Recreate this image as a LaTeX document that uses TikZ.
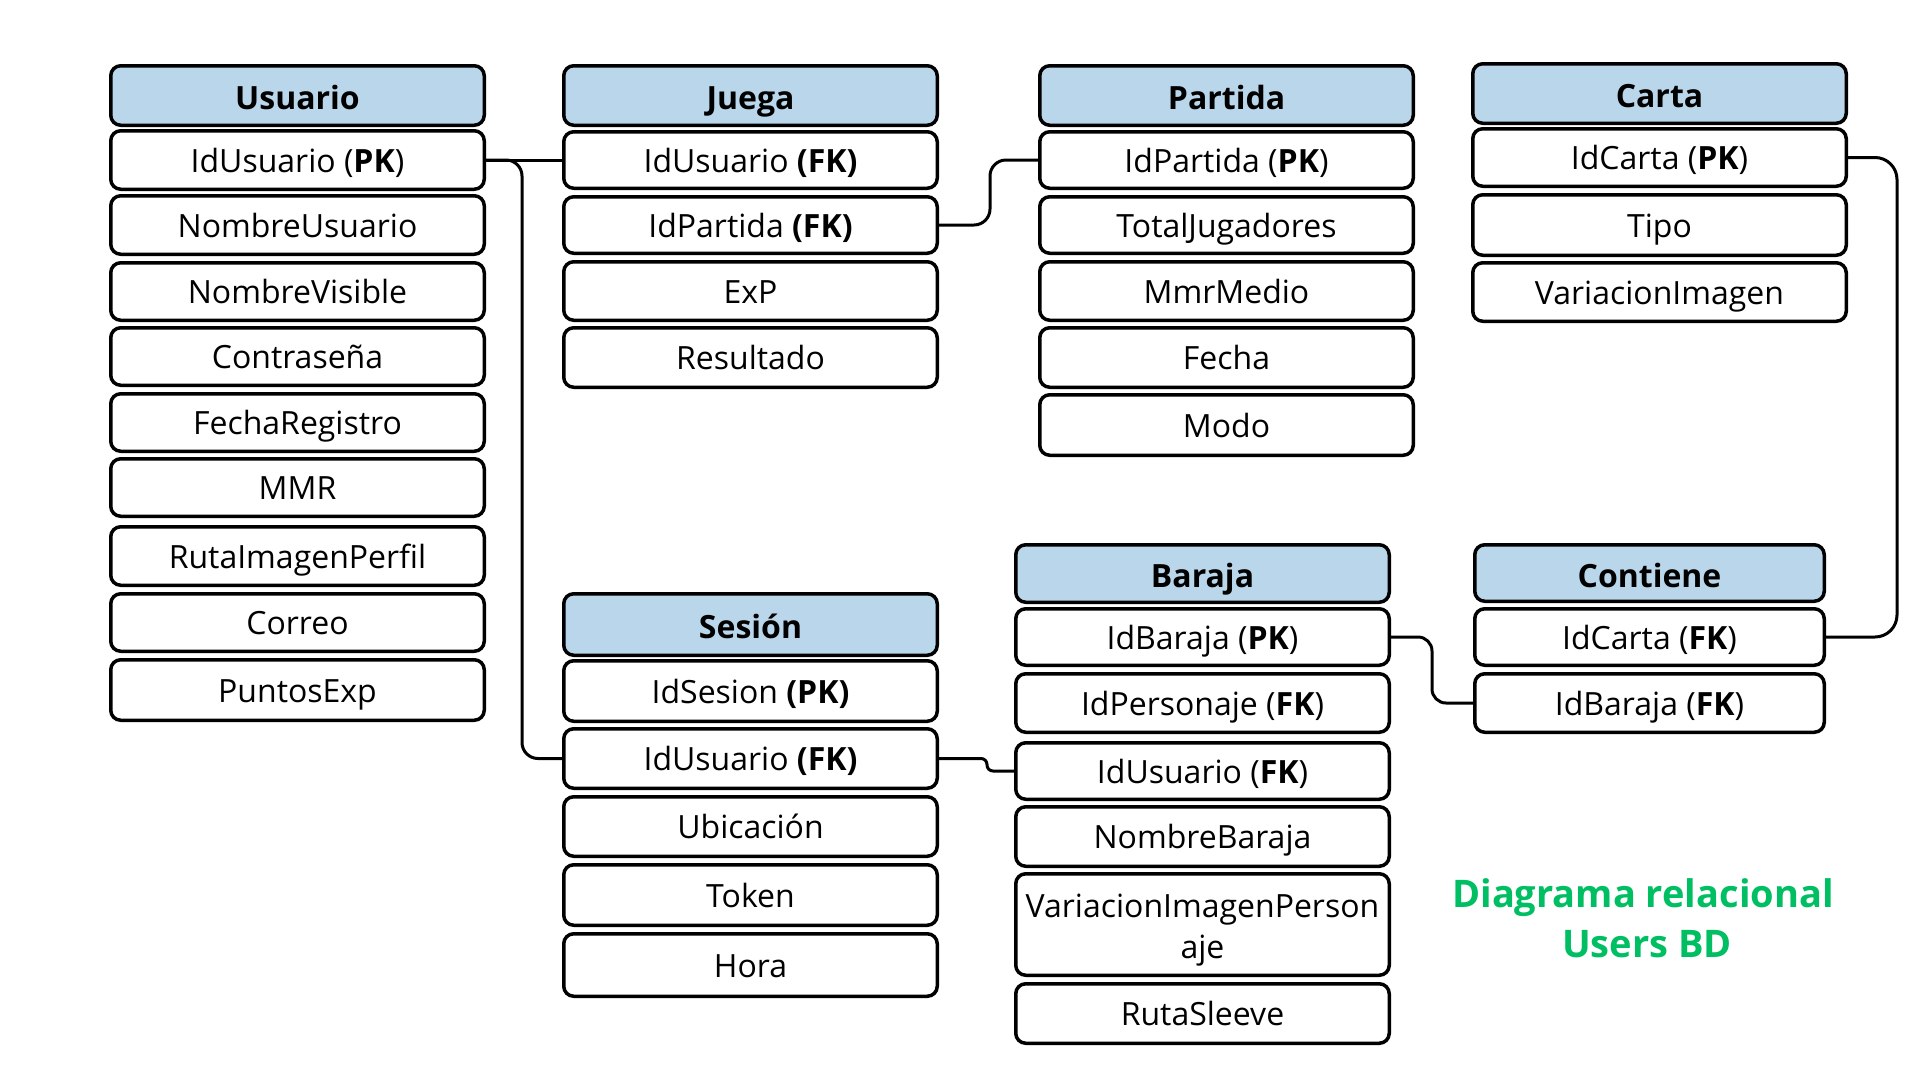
\documentclass[tikz,border=0pt]{standalone}
\usepackage{fontspec}
\setmainfont{Open Sans}
\definecolor{headblue}{RGB}{186,214,235}
\definecolor{titlegreen}{RGB}{0,191,99}
\newcommand\mkcell[7]{%
  \pgfmathsetmacro\cellw{#5-#3-3.5}%
  \pgfmathsetmacro\cellh{#6-#4-3.5}%
  \pgfmathsetmacro\cellx{(#3+#5)/2}%
  \pgfmathsetmacro\celly{(#4+#6)/2}%
  \node[#1, minimum width=\cellw pt, minimum height=\cellh pt] (#2) at (\cellx,\celly) {#7};%
}
\tikzset{
  cellbox/.style={draw=black, line width=3.5pt, rounded corners=10pt, fill=white,
    inner sep=0pt, text depth=0pt, font=\fontsize{32}{39}\selectfont},
  rowcell/.style={cellbox, text height=24.8pt},
  headcell/.style={cellbox, fill=headblue, text height=28.8pt,
    font=\fontsize{32}{39}\selectfont\bfseries},
  rowtext/.style={inner sep=0pt, font=\fontsize{32}{39}\selectfont},
  titletext/.style={inner sep=0pt, text=titlegreen, font=\fontsize{38}{46}\selectfont\bfseries},
  conn/.style={draw=black, line width=3pt}
}
\begin{document}
\begin{tikzpicture}[x=1pt,y=-1pt]
\useasboundingbox[fill=white] (0,0) rectangle (1920,1080);

% ---------- Usuario ----------
\mkcell{headcell}{uh}{109}{64}{486}{127}{Usuario}
\mkcell{rowcell}{u1}{109}{129}{486}{191}{IdUsuario (\textbf{PK})}
\mkcell{rowcell}{u2}{109}{194}{486}{256}{NombreUsuario}
\mkcell{rowcell}{u3}{109}{261}{486}{322}{NombreVisible}
\mkcell{rowcell}{u4}{109}{326}{486}{387}{Contraseña}
\mkcell{rowcell}{u5}{109}{392}{486}{453}{FechaRegistro}
\mkcell{rowcell}{u6}{109}{457}{486}{518}{MMR}
\mkcell{rowcell}{u7}{109}{525}{486}{587}{RutaImagenPerfil}
\mkcell{rowcell}{u8}{109}{592}{486}{653}{Correo}
\mkcell{rowcell}{u9}{109}{658}{486}{722}{PuntosExp}

% ---------- Juega ----------
\mkcell{headcell}{jh}{562}{64}{939}{127}{Juega}
\mkcell{rowcell}{j1}{562}{130}{939}{190}{IdUsuario \textbf{(FK)}}
\mkcell{rowcell}{j2}{562}{195}{939}{255}{IdPartida \textbf{(FK)}}
\mkcell{rowcell}{j3}{562}{260}{939}{322}{ExP}
\mkcell{rowcell}{j4}{562}{326}{939}{389}{Resultado}

% ---------- Partida ----------
\mkcell{headcell}{ph}{1038}{64}{1415}{127}{Partida}
\mkcell{rowcell}{p1}{1038}{130}{1415}{190}{IdPartida (\textbf{PK})}
\mkcell{rowcell}{p2}{1038}{195}{1415}{255}{TotalJugadores}
\mkcell{rowcell}{p3}{1038}{260}{1415}{322}{MmrMedio}
\mkcell{rowcell}{p4}{1038}{326}{1415}{389}{Fecha}
\mkcell{rowcell}{p5}{1038}{393}{1415}{457}{Modo}

% ---------- Carta ----------
\mkcell{headcell}{ch}{1471}{62}{1848}{125}{Carta}
\mkcell{rowcell}{c1}{1471}{127}{1848}{188}{IdCarta (\textbf{PK})}
\mkcell{rowcell}{c2}{1471}{193}{1848}{257}{Tipo}
\mkcell{rowcell}{c3}{1471}{261}{1848}{323}{VariacionImagen}

% ---------- Sesion ----------
\mkcell{headcell}{sh}{562}{592}{939}{657}{Sesión}
\mkcell{rowcell}{s1}{562}{659}{939}{723}{IdSesion \textbf{(PK)}}
\mkcell{rowcell}{s2}{562}{727}{939}{790}{IdUsuario \textbf{(FK)}}
\mkcell{rowcell}{s3}{562}{795}{939}{858}{Ubicación}
\mkcell{rowcell}{s4}{562}{863}{939}{927}{Token}
\mkcell{rowcell}{s5}{562}{932}{939}{998}{Hora}

% ---------- Baraja ----------
\mkcell{headcell}{bh}{1014}{543}{1391}{604}{Baraja}
\mkcell{rowcell}{b1}{1014}{607}{1391}{667}{IdBaraja (\textbf{PK})}
\mkcell{rowcell}{b2}{1014}{672}{1391}{734}{IdPersonaje (\textbf{FK})}
\mkcell{rowcell}{b3}{1014}{741}{1391}{801}{IdUsuario (\textbf{FK})}
\mkcell{rowcell}{b4}{1014}{805}{1391}{868}{NombreBaraja}
\mkcell{rowcell}{b5}{1014}{872}{1391}{977}{}
\node[rowtext, anchor=base] (b5a) at (1202.5,917) {VariacionImagenPerson};
\node[rowtext, anchor=base] (b5b) at (1202.5,958) {aje};
\mkcell{rowcell}{b6}{1014}{982}{1391}{1045}{RutaSleeve}

% ---------- Contiene ----------
\mkcell{headcell}{cth}{1473}{543}{1826}{603}{Contiene}
\mkcell{rowcell}{ct1}{1473}{607}{1826}{667}{IdCarta (\textbf{FK})}
\mkcell{rowcell}{ct2}{1473}{672}{1826}{734}{IdBaraja (\textbf{FK})}

% ---------- Title ----------
\node[titletext, anchor=base] (t1) at (1643,907) {Diagrama relacional};
\node[titletext, anchor=base] (t2) at (1647,957) {Users BD};

% ---------- Connectors ----------
\coordinate (ubx) at (522,0);
\coordinate (jpx) at (990,0);
\coordinate (ccx) at (1897,0);
\coordinate (bcx) at (1432,0);
\coordinate (sbx) at (987,0);
\draw[conn] (u1.east) -- (j1.west);
\draw[conn, rounded corners=16pt] (u1.east) -- (u1.east -| ubx) -- (ubx |- s2.west) -- (s2.west);
\draw[conn, rounded corners=16pt] (j2.east) -- (j2.east -| jpx) -- (jpx |- p1.west) -- (p1.west);
\draw[conn, rounded corners=22pt] (c1.east) -- (c1.east -| ccx) -- (ccx |- ct1.east) -- (ct1.east);
\draw[conn, rounded corners=14pt] (b1.east) -- (b1.east -| bcx) -- (bcx |- ct2.west) -- (ct2.west);
\draw[conn, rounded corners=6pt] (s2.east) -- (s2.east -| sbx) -- (sbx |- b3.west) -- (b3.west);
\end{tikzpicture}
\end{document}
